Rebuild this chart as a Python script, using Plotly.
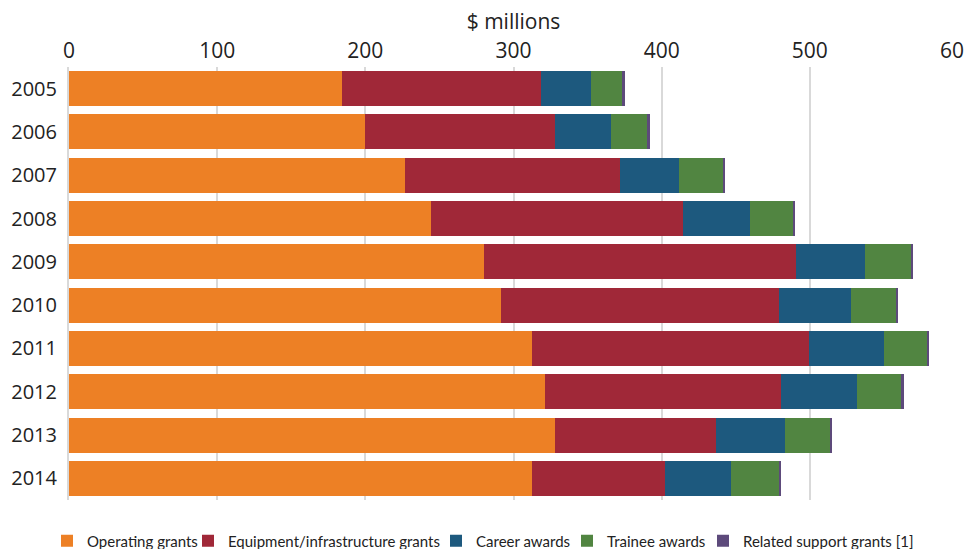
import plotly.graph_objects as go

years = ["2005", "2006", "2007", "2008", "2009", "2010", "2011", "2012", "2013", "2014"]

operating_grants = [184, 200, 227, 244, 280, 291.5, 312.4, 321.2, 328, 312.4]
equipment_grants = [134.5, 128.3, 145.1, 170.6, 210.6, 187.5, 186.9, 159.2, 108.6, 89.6]
career_awards = [33.5, 37.3, 39.8, 45.2, 46.4, 48.7, 50.7, 51.3, 46.4, 44.7]
trainee_awards = [21.8, 25.0, 29.7, 29.0, 31.4, 31.0, 29.6, 29.7, 30.8, 32.6]
related_support = [1.2, 1.3, 1.3, 1.0, 0.8, 1.1, 0.9, 2.0, 1.2, 0.9]

series_names = ["Operating grants", "Equipment/infrastructure grants", "Career awards",
                "Trainee awards", "Related support grants [1]"]
series_values = [operating_grants, equipment_grants, career_awards, trainee_awards, related_support]
series_colors = ["#ED8025", "#A02838", "#1D597E", "#518541", "#5D4A7B"]

x_ticks = [0, 100, 200, 300, 400, 500, 600]

W, H = 964, 549
# left edge (px) of each legend entry along the bottom row
legend_left_px = [47, 188, 436, 567, 703]

fig = go.Figure()
legend_layouts = {}
for i, (name, values, color) in enumerate(zip(series_names, series_values, series_colors)):
    key = "legend" if i == 0 else f"legend{i + 1}"
    fig.add_trace(go.Bar(
        y=years,
        x=values,
        name=name,
        orientation="h",
        marker=dict(color=color, line=dict(width=0)),
        legend=key,
        showlegend=True,
    ))
    legend_layouts[key] = dict(
        orientation="h",
        xref="container",
        yref="container",
        x=legend_left_px[i] / W,
        xanchor="left",
        y=1 - 541 / H,
        yanchor="middle",
        font=dict(family="Lato", size=15, color="#222222"),
        itemwidth=30,
        bgcolor="rgba(0,0,0,0)",
    )

fig.update_layout(
    barmode="stack",
    bargap=0.19,
    width=W,
    height=H,
    showlegend=True,
    margin=dict(l=69, r=6, t=67, b=49),
    paper_bgcolor="white",
    plot_bgcolor="white",
    font=dict(family="Open Sans", color="#222222"),
    xaxis=dict(
        side="top",
        range=[0, 600],
        tickvals=x_ticks,
        ticktext=[str(v) for v in x_ticks],
        tickfont=dict(family="Open Sans", size=21, color="#222222"),
        ticklabeloverflow="allow",
        ticklabelstandoff=4,
        automargin=False,
        showgrid=True,
        gridcolor="#d9d9d9",
        gridwidth=2,
        zeroline=False,
        ticks="",
        title=dict(text="$ millions", font=dict(family="Open Sans", size=21, color="#222222"), standoff=0),
    ),
    yaxis=dict(
        categoryorder="array",
        categoryarray=years,
        autorange="reversed",
        automargin=False,
        tickfont=dict(family="Open Sans", size=20, color="#222222"),
        showline=True,
        linecolor="#d9d9d9",
        linewidth=2,
        ticks="",
        ticklabelstandoff=6,
        showgrid=False,
    ),
    **legend_layouts,
)

fig.write_html("out.html")
